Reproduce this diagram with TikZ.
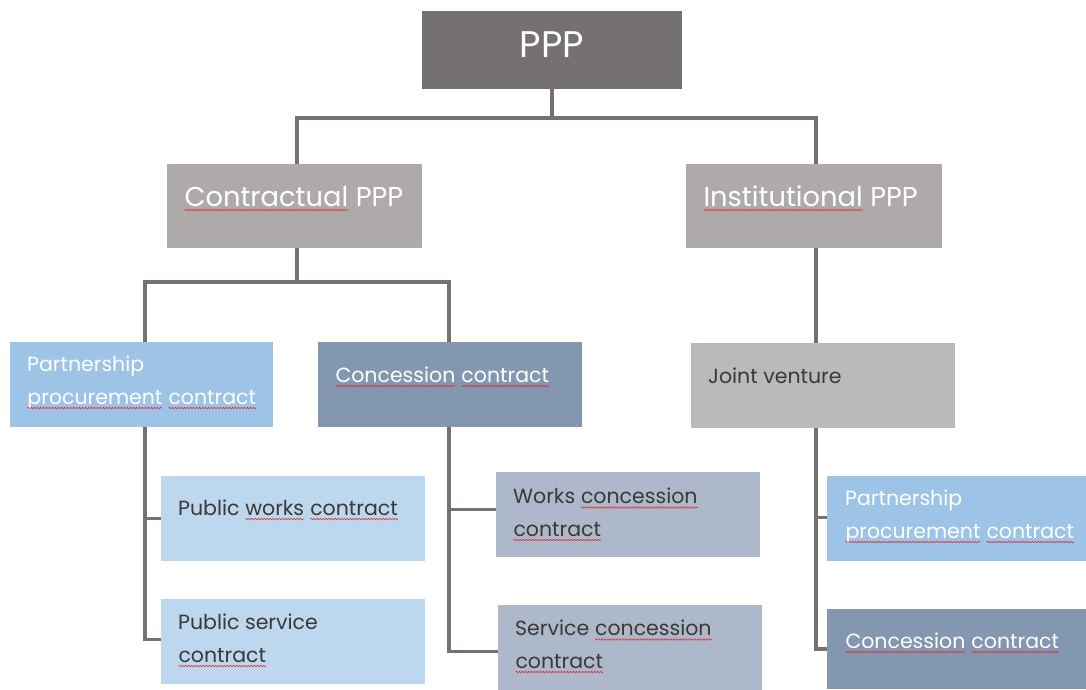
\documentclass[tikz,border=0pt]{standalone}
\usepackage{fontspec}
\setmainfont{Poppins}
\usetikzlibrary{decorations.pathmorphing}
\definecolor{wavered}{HTML}{E8252A}
\definecolor{lineg}{HTML}{767171}
\definecolor{topg}{HTML}{767171}
\definecolor{midg}{HTML}{AEAAAA}
\definecolor{jvg}{HTML}{BCB9B9}
\definecolor{ppblue}{HTML}{9DC3E6}
\definecolor{ccblue}{HTML}{8497B0}
\definecolor{lightblue}{HTML}{BDD7EE}
\definecolor{greyblue}{HTML}{ADB9CA}
\definecolor{darktxt}{HTML}{3B3838}
\newcommand\sq[1]{\tikz[baseline=(sqw.base)]{\node[inner sep=0pt,outer sep=0pt,anchor=base] (sqw) {#1};\draw[wavered,line width=0.6pt,decorate,decoration={snake,amplitude=0.7pt,segment length=3pt}] ([yshift=-4pt]sqw.base west) -- ([yshift=-4pt]sqw.base east);}}
\begin{document}
\begin{tikzpicture}[x=1pt,y=-1pt,
  box/.style={anchor=north west,inner sep=0,outer sep=0,minimum width=264pt,minimum height=85pt},
  conn/.style={draw=lineg,line width=3.5pt},
  lbl/.style={anchor=base west,inner sep=0,align=left,font=\fontsize{20.5}{32.5}\selectfont},
  wtxt/.style={lbl,text=white},
  dtxt/.style={lbl,text=darktxt}]
\useasboundingbox (0,0) rectangle (1086,689);
% boxes
\node[box,fill=topg,minimum width=260pt,minimum height=78pt] (ppp) at (422,11) {};
\node[box,fill=midg,minimum width=255pt,minimum height=84pt] (cppp) at (167,164) {};
\node[box,fill=midg,minimum width=256pt,minimum height=84pt] (ippp) at (686,164) {};
\node[box,fill=ppblue,minimum width=263pt] (pp) at (10,342) {};
\node[box,fill=ccblue] (cc) at (318,342) {};
\node[box,fill=jvg] (jv) at (691,343) {};
\node[box,fill=lightblue] (pw) at (161,476) {};
\node[box,fill=lightblue] (ps) at (161,599) {};
\node[box,fill=greyblue] (wc) at (496,472) {};
\node[box,fill=greyblue] (sc) at (498,605) {};
\node[box,fill=ppblue] (ppr) at (827,476) {};
\node[box,fill=ccblue,minimum height=80pt] (ccr) at (827,609) {};
% connectors
\coordinate (j1) at (552,118);
\coordinate (j2) at (297,282);
\draw[conn] (ppp.south) -- (j1) -| ([xshift=2.5pt]cppp.north);
\draw[conn] (j1) -| ([xshift=2pt]ippp.north);
\draw[conn] ([xshift=2.5pt]cppp.south) -- (j2) -| ([xshift=3.5pt]pp.north);
\draw[conn] (j2) -| ([xshift=-1pt]cc.north);
\draw[conn] ([xshift=2pt]ippp.south) -- ([xshift=2pt]ippp.south |- jv.north);
\draw[conn] ([xshift=3.5pt]pp.south) |- (pw.west);
\draw[conn] ([xshift=3.5pt]pp.south) |- ([yshift=2pt]ps.west);
\draw[conn] ([xshift=-1pt]cc.south) |- ([yshift=5pt]wc.west);
\draw[conn] ([xshift=-1pt]cc.south) |- ([yshift=-4pt]sc.west);
\draw[conn] ([xshift=2pt]ippp.south |- jv.south) |- ([yshift=1pt]ppr.west);
\draw[conn] ([xshift=2pt]ippp.south |- jv.south) |- ([yshift=0pt]ccr.west);
% texts
\node[anchor=base,inner sep=0,text=white,font=\fontsize{37}{40}\selectfont] (tppp) at (552,57) {PPP};
\node[wtxt,font=\fontsize{27.3}{30}\selectfont] (tcppp) at (184,206) {\sq{Contractual} PPP};
\node[wtxt,font=\fontsize{27.3}{30}\selectfont] (tippp) at (703,206) {\sq{Institutional} PPP};
\node[wtxt] (tpp) at (27,404) {Partnership\\\sq{procurement} \sq{contract}};
\node[wtxt] (tcc) at (335,382) {\sq{Concession} \sq{contract}};
\node[dtxt] (tjv) at (708,383) {Joint venture};
\node[dtxt] (tpw) at (178,515) {Public \sq{works} \sq{contract}};
\node[dtxt] (tps) at (178,662) {Public service\\\sq{contract}};
\node[dtxt] (twc) at (513,536) {Works \sq{concession}\\\sq{contract}};
\node[dtxt] (tsc) at (515,668) {Service \sq{concession}\\\sq{contract}};
\node[wtxt] (tppr) at (845,538) {Partnership\\\sq{procurement} \sq{contract}};
\node[wtxt] (tccr) at (845,648) {\sq{Concession} \sq{contract}};
\end{tikzpicture}
\end{document}
